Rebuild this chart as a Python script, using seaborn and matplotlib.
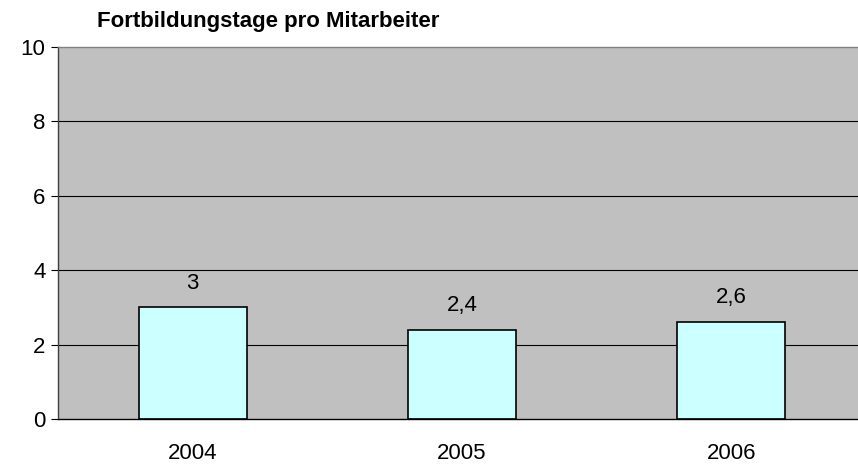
import numpy as np
import pandas as pd
import matplotlib
matplotlib.use("Agg")
import matplotlib.pyplot as plt
import seaborn as sns

jahre = ["2004", "2005", "2006"]
tage = [3.0, 2.4, 2.6]
beschriftung = ["3", "2,4", "2,6"]

df = pd.DataFrame({"Jahr": jahre, "Tage": tage})

sns.set_style("white")
plt.rcParams['font.family'] = ['Liberation Sans', 'DejaVu Sans']

fig = plt.figure(figsize=(8.58, 4.69), dpi=100)
# Plotbereich reicht etwas über den rechten Bildrand hinaus
ax = fig.add_axes([58 / 858, 1 - 419 / 469, 808 / 858, 372 / 469])
ax.set_facecolor("#c0c0c0")

sns.barplot(data=df, x="Jahr", y="Tage", color="#ccffff", saturation=1,
            width=0.4, edgecolor="black", linewidth=1.2, ax=ax)

ax.set_ylim(0, 10)
ax.set_xlim(-0.5, 2.5)
ax.set_yticks([0, 2, 4, 6, 8, 10])
for y in [2, 4, 6, 8]:
    ax.axhline(y, color="black", linewidth=0.8, zorder=0.5)

for i, txt in enumerate(beschriftung):
    ax.annotate(txt, (i, tage[i]), xytext=(0, 10), textcoords="offset points",
                ha="center", va="bottom", fontsize=16, color="black")

ax.set_xticks([-0.5, 0.5, 1.5, 2.5], minor=True)
ax.tick_params(axis="x", which="minor", length=5, width=0.8, color="black")
ax.tick_params(axis="x", which="major", length=0, labelsize=16, pad=17,
               labelcolor="black")
ax.tick_params(axis="y", length=5, width=0.8, color="black", labelsize=16,
               left=True, labelcolor="black", pad=4)
ax.set_xlabel("")
ax.set_ylabel("")

ax.spines["top"].set_color("#808080")
ax.spines["right"].set_visible(False)
ax.spines["left"].set_color("#404040")
ax.spines["bottom"].set_color("black")
for s in ax.spines.values():
    s.set_linewidth(1)

fig.text(97 / 858, 1 - 22 / 469, "Fortbildungstage pro Mitarbeiter",
         fontsize=16, fontweight="bold", ha="left", va="center", color="black")

plt.savefig("out.png", dpi=100)
